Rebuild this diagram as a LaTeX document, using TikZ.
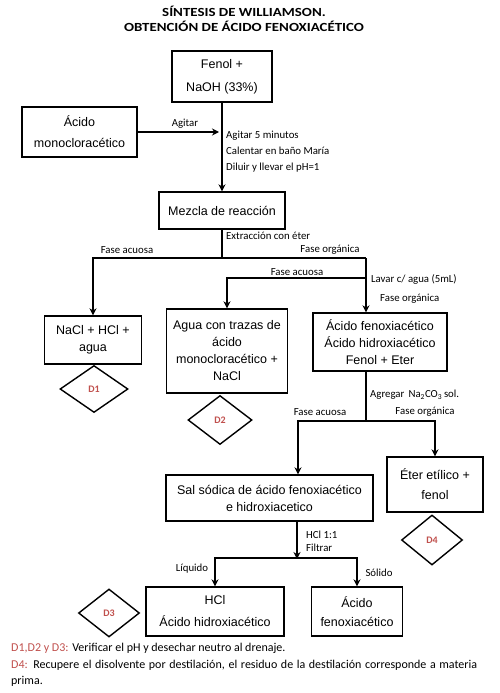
\documentclass[tikz,border=0pt]{standalone}
\usepackage{fontspec}
\setmainfont{Carlito}
\newfontfamily\boxfont{Liberation Sans}
\newfontfamily\titlefont[FakeStretch=1.2]{Carlito}
\usetikzlibrary{arrows.meta, shapes.geometric}
\definecolor{dred}{HTML}{C0504D}

\begin{document}
\begin{tikzpicture}[
    x=1pt, y=-1pt,
    >={Stealth[length=7pt,width=7pt]},
    box/.style={draw, line width=1.4pt, align=center, inner sep=2pt, font=\boxfont\fontsize{12.5}{17}\selectfont},
    decision/.style={draw, diamond, line width=1.4pt, inner sep=0pt, minimum width=64pt, minimum height=48pt, text=dred, font=\bfseries\fontsize{10}{12}\selectfont},
    flow/.style={line width=1.4pt},
    arrow/.style={->, line width=1.4pt},
    lbl/.style={inner sep=0pt, font=\fontsize{10.8}{16}\selectfont},
    titlelbl/.style={inner sep=0pt, font=\titlefont\bfseries\fontsize{12.4}{14}\selectfont},
]
\useasboundingbox (0,0) rectangle (500,693);

% Title
\node[titlelbl] (t1) at (244,11) {SÍNTESIS DE WILLIAMSON.};
\node[titlelbl] (t2) at (244,26) {OBTENCIÓN DE ÁCIDO FENOXIACÉTICO};

% Reactants
\node[box, minimum width=100pt, minimum height=51pt, font=\boxfont\fontsize{12.5}{23}\selectfont] (fenol) at (222,76.5) {Fenol +\\NaOH (33\%)};
\node[box, minimum width=115pt, minimum height=50pt, font=\boxfont\fontsize{12.5}{21}\selectfont] (acido) at (79.5,132) {Ácido\\monocloracético};
\node[box, minimum width=126pt, minimum height=37pt] (mezcla) at (222,210.5) {Mezcla de reacción};

% Extraction products
\node[box, minimum width=97pt, minimum height=48pt] (nacl) at (93,340) {NaCl + HCl +\\agua};
\node[box, minimum width=121pt, minimum height=84pt] (agua) at (227,351) {Agua con trazas de\\ácido\\monocloracético +\\NaCl};
\node[box, minimum width=134pt, minimum height=58pt] (fenox) at (380,342) {Ácido fenoxiacético\\Ácido hidroxiacético\\Fenol + Eter};
\node[box, minimum width=96pt, minimum height=55pt, font=\boxfont\fontsize{12.5}{20}\selectfont] (eter) at (435,484.5) {Éter etílico +\\fenol};
\node[box, minimum width=207pt, minimum height=46pt] (sal) at (269.5,498) {Sal sódica de ácido fenoxiacético\\e hidroxiacetico};
\node[box, minimum width=138pt, minimum height=49pt, font=\boxfont\fontsize{12.5}{22}\selectfont] (hcl) at (215,611.5) {HCl\\Ácido hidroxiacético};
\node[box, minimum width=91pt, minimum height=49pt, font=\boxfont\fontsize{12.5}{19}\selectfont] (afen) at (357,611.5) {Ácido\\fenoxiacético};

% Disposal
\node[decision, minimum width=68pt, minimum height=47pt] (d1) at (94,389) {D1};
\node[decision, minimum height=49pt] (d2) at (220,420) {D2};
\node[decision, minimum width=61pt] (d3) at (109,613) {D3};
\node[decision, minimum width=61pt, minimum height=50pt] (d4) at (432,540) {D4};

% Junctions
\coordinate (s1) at (222,258);
\coordinate (o1) at (366,258);
\coordinate (w1) at (366,278);
\coordinate (s2) at (366,421);
\coordinate (s2l) at (298,421);
\coordinate (f) at (297,558);

% Connectors
\draw[arrow] (fenol.south) -- (mezcla.north);
\draw[arrow] (acido.east) -- ([xshift=-3pt]acido.east -| fenol.south);
\draw[flow] (mezcla.south) -- (s1);
\draw[arrow] (s1) -| (nacl.north);
\draw[flow] (s1) -- (o1);
\draw[arrow] (o1) -- (o1 |- fenox.north);
\draw[arrow] (w1) -| (agua.north);
\draw[flow] (s2 |- fenox.south) -- (s2);
\draw[arrow] (s2) -- (s2l) -- (s2l |- sal.north);
\draw[arrow] (s2) -| (eter.north);
\draw[arrow] (f |- sal.south) -- ([yshift=-1pt]f);
\draw[arrow] (f) -| (hcl.north);
\draw[arrow] (f) -| (afen.north);

% Labels
\node[lbl] at (185,124) {Agitar};
\node[lbl, anchor=west, align=left] at (226,152) {Agitar 5 minutos\\Calentar en baño María\\Diluir y llevar el pH=1};
\node[lbl, anchor=west] at (226,236) {Extracción con éter};
\node[lbl] at (127,250) {Fase acuosa};
\node[lbl] at (330,250) {Fase orgánica};
\node[lbl] at (297,272) {Fase acuosa};
\node[lbl, anchor=west] at (371,279) {Lavar c/ agua (5mL)};
\node[lbl, anchor=west] at (380,299) {Fase orgánica};
\node[lbl, anchor=west] at (370,395) {Agregar\, Na\textsubscript{2}CO\textsubscript{3}\,sol.};
\node[lbl] at (320,412) {Fase acuosa};
\node[lbl] at (425,412) {Fase orgánica};
\node[lbl, anchor=west, align=left, font=\fontsize{10.8}{13}\selectfont] at (306,541.5) {HCl 1:1\\Filtrar};
\node[lbl] at (192,569) {Líquido};
\node[lbl] at (379,573) {Sólido};

% Notes
\node[anchor=north west, text width=466pt, align=justify, inner sep=0pt, font=\fontsize{12}{16.5}\selectfont] (notes) at (11,643) {\textcolor{dred}{D1,D2 y D3:} Verificar el pH y desechar neutro al drenaje.\par
\textcolor{dred}{D4:} Recupere el disolvente por destilación, el residuo de la destilación corresponde a materia prima.};

\end{tikzpicture}
\end{document}
